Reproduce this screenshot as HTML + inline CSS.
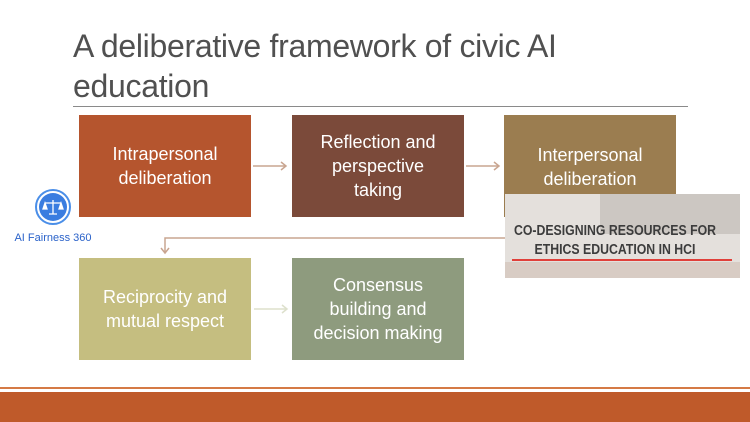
<!DOCTYPE html>
<html><head><meta charset="utf-8"><style>
body{margin:0;width:750px;height:422px;background:#fff;position:relative;overflow:hidden;font-family:"Liberation Sans",sans-serif}
.box{position:absolute;width:172px;height:102px;color:#fff;font-size:18px;line-height:24px;display:flex;align-items:center;justify-content:center;text-align:center}
</style></head><body>
<div style="position:absolute;left:73px;top:26px;font-size:32px;line-height:40px;color:#505050;letter-spacing:-0.3px">A deliberative framework of civic AI<br>education</div>
<div style="position:absolute;left:73px;top:106px;width:615px;height:1px;background:#8a8a8a"></div>
<div class="box" style="left:79px;top:115px;background:#b5552e">Intrapersonal<br>deliberation</div>
<div class="box" style="left:292px;top:115px;background:#7b4a3a">Reflection and<br>perspective<br>taking</div>
<div class="box" style="left:504px;top:115px;background:#9b7d50;align-items:flex-start;padding-top:28px;box-sizing:border-box">Interpersonal<br>deliberation</div>
<div class="box" style="left:79px;top:258px;background:#c5be80">Reciprocity and<br>mutual respect</div>
<div class="box" style="left:292px;top:258px;background:#8e9b7e">Consensus<br>building and<br>decision making</div>
<svg style="position:absolute;left:0;top:0" width="750" height="422">
<g stroke="#c9a590" stroke-width="1.5" fill="none">
<path d="M253 166H286M281 162L286 166L281 170"/>
<path d="M466 166H499M494 162L499 166L494 170"/>
<path d="M505 238H165V253M161 248L165 253L169 248"/>
<path d="M254 309H287M282 305L287 309L282 313" stroke="#dde0cc"/>
</g>
<g>
<circle cx="53" cy="207" r="17" fill="none" stroke="#4a8ee8" stroke-width="2"/>
<circle cx="53" cy="207" r="14" fill="#3a7de0"/>
<path d="M45 203H61M53 200V214M49 214H57M45 203L43 209H47ZM61 203L59 209H63Z" stroke="#fff" stroke-width="1.3" fill="#fff"/>
<text x="53" y="241" text-anchor="middle" font-size="11" fill="#2a62c9" font-family="Liberation Sans">AI Fairness 360</text>
</g>
<g>
<rect x="505" y="194" width="235" height="84" fill="#e4e0dc"/>
<rect x="600" y="194" width="140" height="40" fill="#bdb6b0" opacity="0.6"/>
<rect x="505" y="262" width="235" height="16" fill="#d8ccc4"/>
<g transform="translate(615 0) scale(0.82 1)">
<text x="0" y="235" text-anchor="middle" font-size="15" font-weight="bold" fill="#3c3c3c" font-family="Liberation Sans">CO-DESIGNING RESOURCES FOR</text>
<text x="0" y="254" text-anchor="middle" font-size="15" font-weight="bold" fill="#3c3c3c" font-family="Liberation Sans">ETHICS EDUCATION IN HCI</text>
</g>
<rect x="512" y="259" width="220" height="2" fill="#e0403a"/>
</g>
<rect x="0" y="387" width="750" height="2" fill="#d57a45"/>
<rect x="0" y="392" width="750" height="30" fill="#bf5a2a"/>
</svg>
</body></html>
